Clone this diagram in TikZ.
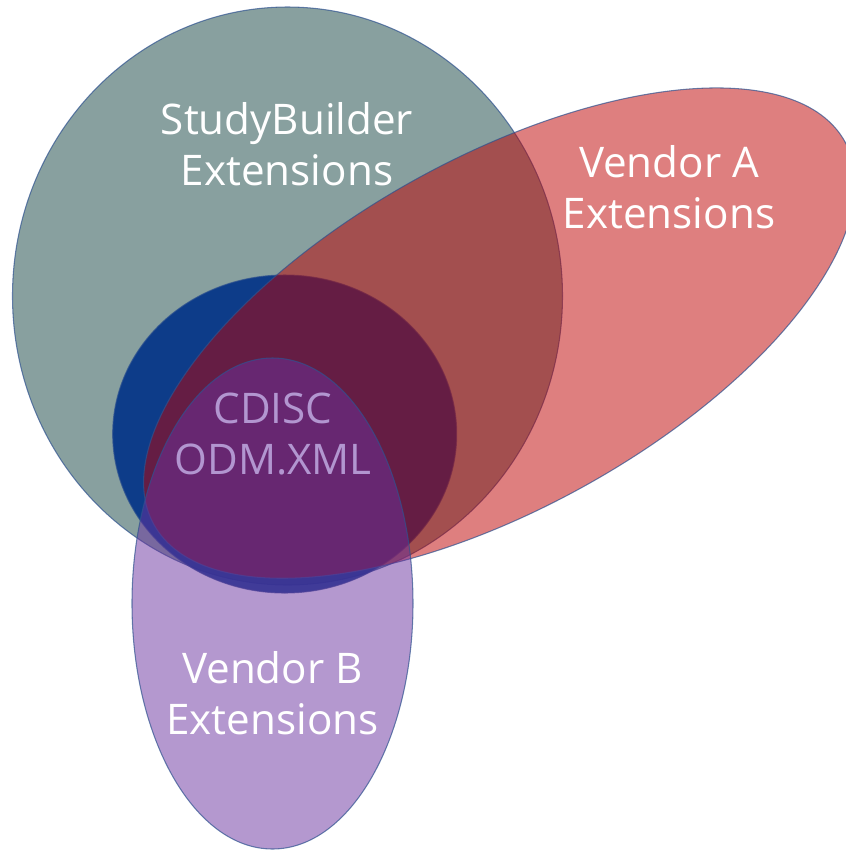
\documentclass[tikz,border=0pt]{standalone}
\usepackage{fontspec}
\setmainfont{Open Sans}
\definecolor{sbteal}{RGB}{136,160,159}
\definecolor{odmblue}{RGB}{0,50,135}
\definecolor{vendorred}{RGB}{190,0,0}
\definecolor{vendorpurple}{RGB}{106,49,159}
\definecolor{rimblue}{RGB}{47,82,143}
\definecolor{odmtext}{RGB}{178,150,208}

\begin{document}
\begin{tikzpicture}[x=0.02cm, y=-0.02cm,
	rim/.style={draw=rimblue, draw opacity=.7, line width=.6pt},
	settext/.style={align=center, font=\fontsize{24}{29}\selectfont, text=white}]

	\useasboundingbox (0,0) rectangle (846,850);

	% the four sets, back to front
	\draw[rim, fill=sbteal] (287.5,296) ellipse (275 and 289);
	\draw[rim, fill=odmblue, fill opacity=.9] (284.7,434) ellipse (172 and 159);
	\draw[rim, fill=vendorred, fill opacity=.5, rotate around={29:(499.4,333.1)}] (499.4,333.1) ellipse (395 and 175);
	\draw[rim, fill=vendorpurple, fill opacity=.5] (272.5,603.5) ellipse (140.5 and 245.5);

	\node[settext] (sb) at (287,144) {StudyBuilder\\Extensions};
	\node[settext] (va) at (669,187) {Vendor A\\Extensions};
	\node[settext, text=odmtext] (odm) at (273,434) {CDISC\\ODM.XML};
	\node[settext] (vb) at (272.5,693) {Vendor B\\Extensions};
\end{tikzpicture}
\end{document}
